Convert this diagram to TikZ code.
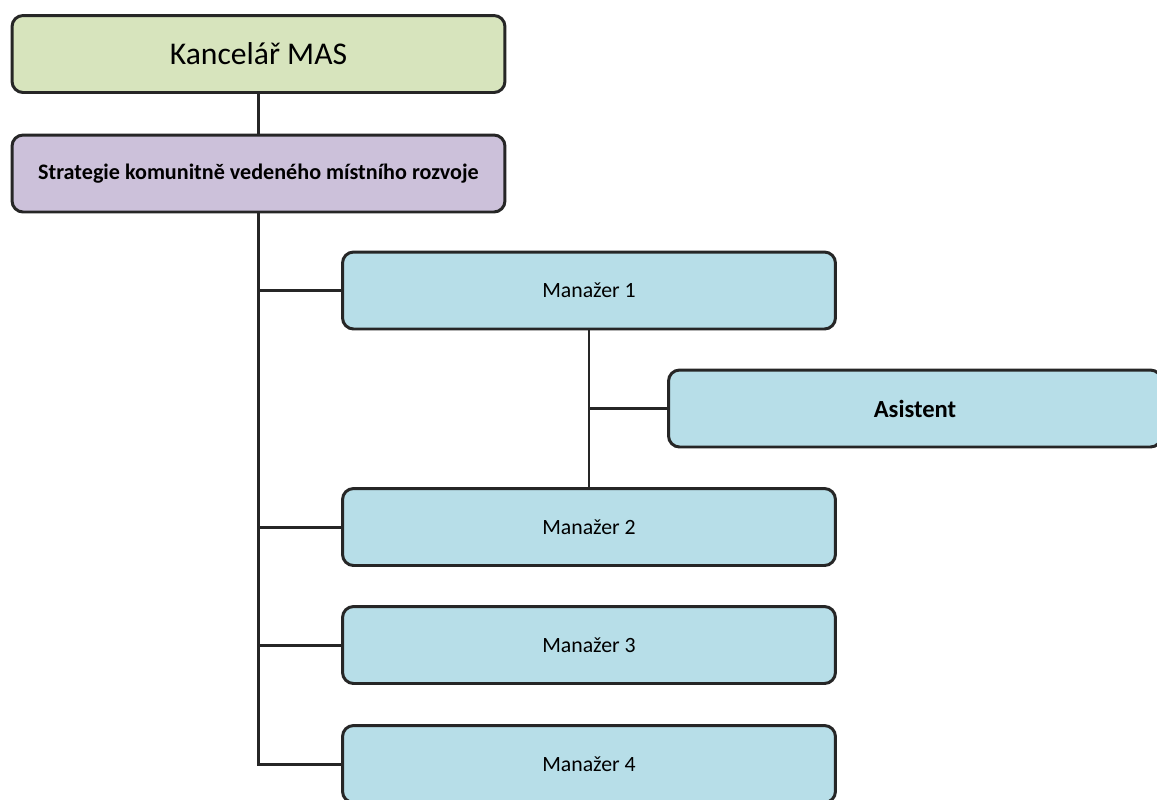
\documentclass[tikz,border=0pt]{standalone}
\usepackage{fontspec}
\setmainfont{Carlito}
\usetikzlibrary{positioning}

\definecolor{masgreen}{HTML}{D7E4BD}
\definecolor{maspurple}{HTML}{CCC1DA}
\definecolor{masblue}{HTML}{B7DEE8}

\begin{document}
\begin{tikzpicture}[x=0.02cm, y=-0.02cm,
  box/.style={draw=black!85, line width=1.7pt, rounded corners=0.22cm,
    minimum width=9.86cm, minimum height=1.54cm, inner sep=0pt},
  link/.style={draw=black!85, line width=1.7pt}]
  \useasboundingbox (0,0) rectangle (1157,799);
  \node[box, fill=masgreen, font=\fontsize{18}{21}\selectfont] (kancelar) at (258.5,54) {Kancelář MAS};
  \node[box, fill=maspurple, font=\fontsize{12.6}{15}\selectfont\bfseries] (strategie) at (258.5,173.5) {Strategie komunitně vedeného místního rozvoje};
  \node[box, fill=masblue, font=\fontsize{12.4}{15}\selectfont] (manazer1) at (589,290.5) {Manažer 1};
  \node[box, fill=masblue, font=\fontsize{14}{17}\selectfont\bfseries] (asistent) at (915,408.5) {Asistent};
  \node[box, fill=masblue, font=\fontsize{12.4}{15}\selectfont] (manazer2) at (589,527) {Manažer 2};
  \node[box, fill=masblue, font=\fontsize{12.4}{15}\selectfont] (manazer3) at (589,645) {Manažer 3};
  \node[box, fill=masblue, font=\fontsize{12.4}{15}\selectfont] (manazer4) at (589,764) {Manažer 4};
  \draw[link] (kancelar) -- (strategie);
  \draw[link] (strategie.south) |- (manazer4.west);
  \draw[link] (strategie.south) |- (manazer1.west);
  \draw[link] (strategie.south) |- (manazer2.west);
  \draw[link] (strategie.south) |- (manazer3.west);
  \draw[link] (manazer1) -- (manazer2);
  \draw[link] (manazer1.south) |- (asistent.west);
\end{tikzpicture}
\end{document}
